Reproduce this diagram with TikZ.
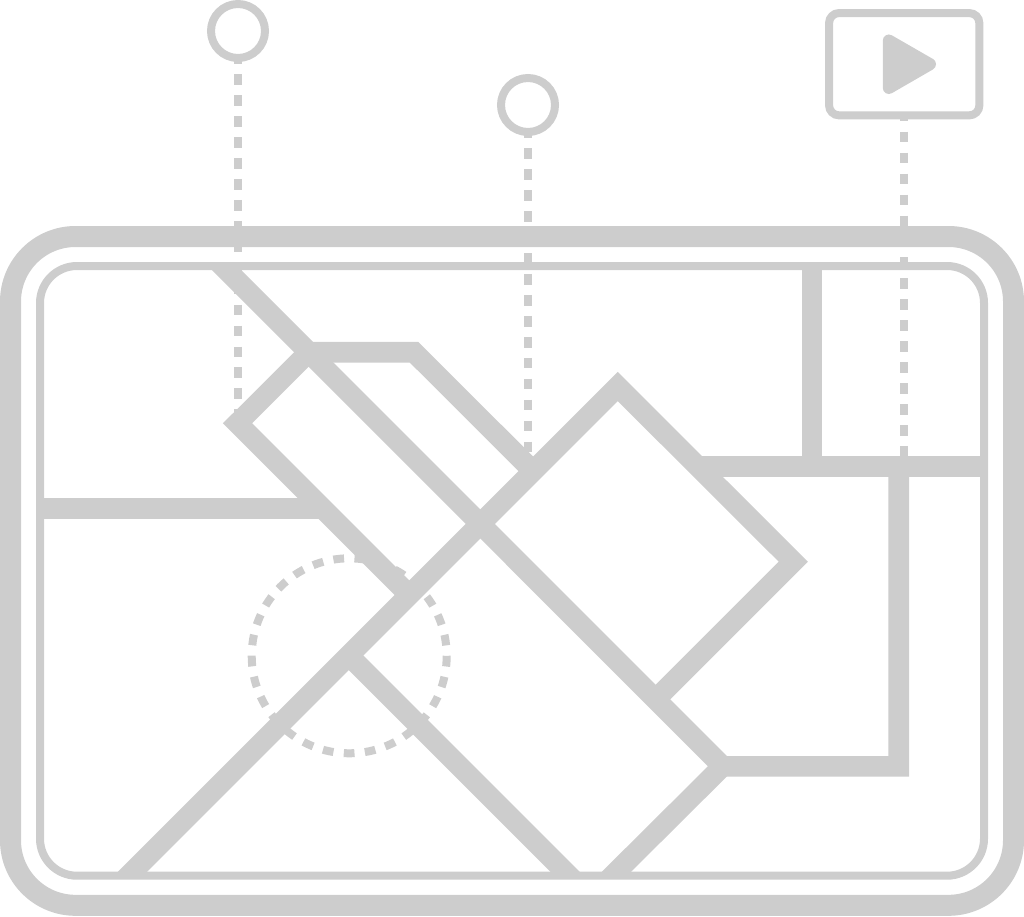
\documentclass[tikz,border=0pt]{standalone}
\usepackage{tikz}
\definecolor{mapgray}{RGB}{205,205,205}
\tikzset{
	casing/.append style={
		draw=mapgray,
		line width=21pt,
		rounded corners=65pt,
	},
	screen/.append style={
		draw=mapgray,
		line width=8pt,
		rounded corners=37pt,
	},
	road/.append style={
		draw=mapgray,
		line width=20.6pt,
	},
	pinring/.append style={
		draw=mapgray,
		circle,
		line width=8pt,
		inner sep=0pt,
		outer sep=0pt,
		minimum size=54pt,
	},
	playbox/.append style={
		draw=mapgray,
		rectangle,
		line width=8pt,
		rounded corners=10pt,
		inner sep=0pt,
		outer sep=0pt,
		minimum width=150.3pt,
		minimum height=102.3pt,
	},
	leader/.append style={
		draw=mapgray,
		line width=7.8pt,
		dash pattern=on 10.7pt off 10.25pt,
	},
	radiusring/.append style={
		draw=mapgray,
		line width=8pt,
		dash pattern=on 10.7pt off 10.425pt,
	}
}

\begin{document}
\begin{tikzpicture}[x=1pt,y=-1pt]
\useasboundingbox (0,0) rectangle (1024,916);

% device
\draw[casing] (10.5,236.5) rectangle (1013.5,905.3);
\draw[screen] (40,266) rectangle (984,875.7);

% streets
\begin{scope}
\clip[rounded corners=37pt] (40,266) rectangle (984,875.7);
\draw[road] (196.5,240) -- (722.5,766.3) -- (898.7,766.3) -- (898.7,466.3);
\draw[road] (98.5,905.7) -- (617.7,386.5) -- (793.3,561.7) -- (655.75,699.25);
\draw[road] (308.7,352.2) -- (414,352.2) -- (533,471);
\draw[road] (308.7,352.2) -- (237.5,423.3) -- (409.3,595.1);
\draw[road] (30,508.3) -- (322.5,508.3);
\draw[road] (348.8,655.6) -- (598.9,905.7);
\draw[road] (722.5,766.3) -- (582.3,905.7);
\draw[road] (697.5,466.3) -- (994,466.3);
\draw[road] (812,256) -- (812,466.3);
\end{scope}

% radius round the position
\draw[radiusring] (349.2,655.8) circle (97.5);

% pins
\node(pinA)[pinring] at (238,31) {};
\coordinate(pinAend) at (238,419);
\draw[leader,dash phase=4.8pt] (pinA.south) -- (pinAend);

\node(pinB)[pinring] at (528,105) {};
\coordinate(pinBend) at (528,452);
\draw[leader,dash phase=4.7pt] (pinB.south) -- (pinBend);

% video pin
\node(video)[playbox] at (904.2,64.2) {};
\coordinate(videoend) at (904.2,457);
\draw[leader,dash phase=4.6pt] (video.south) -- (videoend);
\fill[mapgray,draw=mapgray,line width=12pt,line join=round] (888.8,40.5) -- (930,64.2) -- (888.8,88) -- cycle;

\end{tikzpicture}
\end{document}
